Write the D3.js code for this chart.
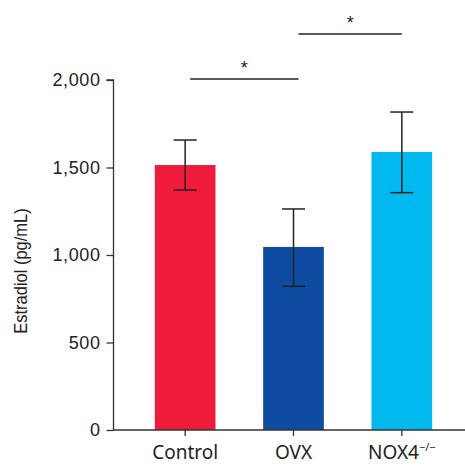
<!DOCTYPE html>
<html>
<head>
<meta charset="utf-8">
<script src="https://cdnjs.cloudflare.com/ajax/libs/d3/7.8.5/d3.min.js"></script>
<style>
  body { margin: 0; background: white; }
  text { fill: #222; }
</style>
</head>
<body>
<svg id="chart" width="465" height="466"></svg>
<script>
// data
var groups = ["Control", "OVX", "NOX4"];
var means = [1514, 1046, 1589];
var errHigh = [1657, 1263, 1817];
var errLow = [1371, 821, 1356];
var colors = ["#ee1b3b", "#0d4ca0", "#00b9ef"];
var yTicks = [0, 500, 1000, 1500, 2000];
// significance brackets: from group, to group, height on the y scale
var sigFrom = ["Control", "OVX"];
var sigTo = ["OVX", "NOX4"];
var sigLevel = [2006, 2263];

var arial = "'Liberation Sans', Arial, sans-serif";
var svg = d3.select("#chart");

var y = d3.scaleLinear().domain([0, 2000]).range([430, 80]);
var x = d3.scaleBand().domain(groups).range([131, 456]).paddingInner(0.44).paddingOuter(0.22);

// bars
svg.selectAll(".bar")
  .data(groups)
  .enter().append("rect")
  .attr("class", "bar")
  .attr("x", function(d) { return x(d); })
  .attr("width", x.bandwidth())
  .attr("y", function(d, i) { return y(means[i]); })
  .attr("height", function(d, i) { return y(0) - y(means[i]); })
  .attr("fill", function(d, i) { return colors[i]; });

// error bars
var capW = 11.5;
var eb = svg.append("g").attr("stroke", "#222").attr("stroke-width", 1.5);
groups.forEach(function(g, i) {
  var cx = x(g) + x.bandwidth() / 2;
  eb.append("line").attr("x1", cx).attr("x2", cx).attr("y1", y(errHigh[i])).attr("y2", y(errLow[i]));
  eb.append("line").attr("x1", cx - capW).attr("x2", cx + capW).attr("y1", y(errHigh[i])).attr("y2", y(errHigh[i]));
  eb.append("line").attr("x1", cx - capW).attr("x2", cx + capW).attr("y1", y(errLow[i])).attr("y2", y(errLow[i]));
});

// y axis
var yAxis = svg.append("g")
  .attr("transform", "translate(113.5,0)")
  .call(d3.axisLeft(y).tickValues(yTicks).tickSize(7).tickPadding(6).tickFormat(d3.format(",")));
yAxis.select(".domain").attr("stroke", "#333").attr("stroke-width", 1.3).attr("d", "M-7," + y(2000) + "H0V" + y(0));
yAxis.selectAll(".tick line").attr("stroke", "#333").attr("stroke-width", 1.3);
yAxis.selectAll(".tick text").style("font-size", "18px").style("fill", "#222")
  .style("font-family", arial).style("letter-spacing", "0.6px");

// x axis
var xAxis = svg.append("g")
  .attr("transform", "translate(0," + y(0) + ")")
  .call(d3.axisBottom(x).tickSize(6).tickFormat(function(d) { return ""; }));
xAxis.select(".domain").attr("stroke", "#333").attr("stroke-width", 1.3).attr("d", "M113,0H465");
xAxis.selectAll(".tick line").attr("stroke", "#333").attr("stroke-width", 1.3);

var labels = svg.append("g");
groups.forEach(function(g, i) {
  var t = labels.append("text")
    .attr("x", x(g) + x.bandwidth() / 2)
    .attr("y", 459)
    .attr("text-anchor", "middle")
    .style("font-size", "19px")
    .style("font-family", "'Noto Sans', 'Open Sans', sans-serif")
    .text(g);
  if (g === "NOX4") {
    t.append("tspan").style("font-size", "11px").attr("dy", -8).text("\u2212/\u2212");
  }
});

// y label (glyphs a little wider than tall, as in the reference)
svg.append("text")
  .attr("transform", "translate(27,271) scale(1.12,1) rotate(-90)")
  .attr("text-anchor", "middle")
  .style("font-size", "16.5px")
  .style("font-family", arial)
  .text("Estradiol (pg/mL)");

// significance brackets
var sig = svg.append("g");
sigFrom.forEach(function(f, i) {
  var x1 = x(f) + x.bandwidth() / 2 + 5;
  var x2 = x(sigTo[i]) + x.bandwidth() / 2 + (i === 0 ? 5 : 0);
  var yy = y(sigLevel[i]);
  sig.append("line").attr("x1", x1).attr("x2", x2).attr("y1", yy).attr("y2", yy)
    .attr("stroke", "#222").attr("stroke-width", 1.5);
  sig.append("text").attr("x", (x1 + x2) / 2).attr("y", yy - 5)
    .attr("text-anchor", "middle").style("font-size", "18px").style("font-family", arial).text("*");
});
</script>
</body>
</html>
